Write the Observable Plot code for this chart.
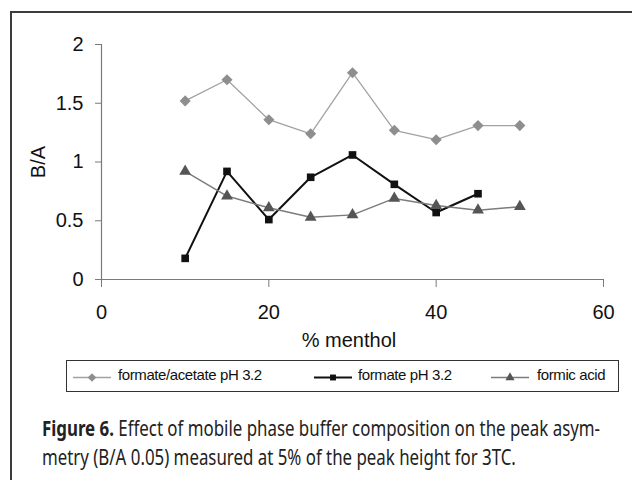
<!DOCTYPE html>
<html><head><meta charset="utf-8">
<script src="https://cdn.jsdelivr.net/npm/d3@7"></script>
<script src="https://cdn.jsdelivr.net/npm/@observablehq/plot@0.6"></script>
<style>
body{margin:0;background:#fff;width:632px;height:480px;overflow:hidden;position:relative;font-family:"Liberation Sans",Arial,sans-serif;color:#111;}
#frame{position:absolute;left:10px;top:11px;width:700px;height:600px;border:2px solid #3c3c3c;box-sizing:border-box;}
#chart{position:absolute;left:0;top:0;}
#ytitle{position:absolute;left:38px;top:162px;transform:translate(-50%,-50%) rotate(-90deg);font-size:20px;white-space:nowrap;}
#xtitle{position:absolute;left:349px;top:340px;transform:translate(-50%,-50%);font-size:20px;white-space:nowrap;}
#legend{position:absolute;left:66px;top:360px;width:553px;height:32px;border:1.5px solid #333;box-sizing:border-box;}
.li{position:absolute;top:0;height:29px;}
.lt{position:absolute;top:5px;font-size:15px;white-space:nowrap;letter-spacing:-0.4px;}
#caption{position:absolute;left:42px;top:413px;font-family:"Noto Sans",sans-serif;font-size:22px;line-height:29px;color:#222;}
#caption div{white-space:nowrap;transform-origin:0 0;}
</style></head>
<body>
<div id="frame"></div>
<div id="chart"></div>
<div id="ytitle">B/A</div>
<div id="xtitle">% menthol</div>
<div id="legend"></div>
<div id="caption"><div id="cap1"><b>Figure 6.</b> Effect of mobile phase buffer composition on the peak asym-</div><div id="cap2">metry (B/A 0.05) measured at 5% of the peak height for 3TC.</div></div>
<script>
const xValues = [10, 15, 20, 25, 30, 35, 40, 45, 50];
const formateAcetate = [1.52, 1.70, 1.36, 1.24, 1.76, 1.27, 1.19, 1.31, 1.31];
const formate = [0.18, 0.92, 0.51, 0.87, 1.06, 0.81, 0.57, 0.73];
const formicAcid = [0.92, 0.71, 0.61, 0.53, 0.55, 0.69, 0.63, 0.59, 0.62];
const seriesNames = ["formate/acetate pH 3.2", "formate pH 3.2", "formic acid"];
const xTicks = [0, 20, 40, 60];
const yTicks = [0, 0.5, 1, 1.5, 2];

const styles = [
  {line: "#a2a2a2", lw: 1.3, fill: "#8e8e8e", symbol: "diamond2", r: 5.0},
  {line: "#111111", lw: 2, fill: "#111111", symbol: "square", r: 4.3},
  {line: "#7c7c7c", lw: 1.5, fill: "#555555", symbol: "triangle", r: 4.4}
];
const seriesValues = [formateAcetate, formate, formicAcid];
const tables = seriesValues.map((vals, i) => vals.map((v, j) => ({x: xValues[j], y: v, s: seriesNames[i]})));

const marks = [
  Plot.axisY({ticks: yTicks, tickSize: 6, tickPadding: 12, stroke: "#7a7a7a", tickFormat: d => String(d), fontSize: 20, fill: "#111", label: null}),
  Plot.axisX({ticks: xTicks, tickSize: 8, tickPadding: 17, stroke: "#7a7a7a", tickFormat: d => String(d), fontSize: 20, fill: "#111", label: null}),
  Plot.ruleX([0], {stroke: "#7a7a7a", strokeWidth: 1.2}),
  Plot.ruleY([0], {stroke: "#7a7a7a", strokeWidth: 1.2})
];
tables.forEach((t, i) => {
  const st = styles[i];
  marks.push(Plot.line(t, {x: "x", y: "y", stroke: st.line, strokeWidth: st.lw}));
});
tables.forEach((t, i) => {
  const st = styles[i];
  marks.push(Plot.dot(t, {x: "x", y: "y", symbol: () => st.symbol, fill: st.fill, stroke: "none", r: st.r}));
});

const chart = Plot.plot({
  width: 632, height: 350,
  marginLeft: 101, marginRight: 29, marginTop: 44, marginBottom: 71,
  style: {fontFamily: "'Liberation Sans', Arial, sans-serif", fontSize: "20px", background: "transparent", color: "#111"},
  x: {domain: [0, 60]},
  y: {domain: [0, 2]},
  symbol: {type: "identity"},
  marks
});
document.getElementById("chart").appendChild(chart);

// legend
const legend = document.getElementById("legend");
const legendPos = [{lx: 6, tx: 51}, {lx: 247, tx: 291}, {lx: 424, tx: 470}];
seriesNames.forEach((name, i) => {
  const st = styles[i];
  const p = legendPos[i];
  const svg = d3.create("svg").attr("class", "li").attr("width", 38).attr("height", 29).style("left", p.lx + "px");
  svg.append("line").attr("x1", 0).attr("x2", 38).attr("y1", 16.5).attr("y2", 16.5).attr("stroke", st.line).attr("stroke-width", st.lw);
  const symMap = {diamond2: d3.symbolDiamond2, square: d3.symbolSquare, triangle: d3.symbolTriangle};
  svg.append("path").attr("d", d3.symbol(symMap[st.symbol], Math.PI * st.r * st.r * 0.6)()).attr("transform", "translate(19,16.5)").attr("fill", st.fill);
  legend.appendChild(svg.node());
  const t = document.createElement("div");
  t.className = "lt"; t.style.left = p.tx + "px"; t.textContent = name;
  legend.appendChild(t);
});

// caption fit
const c1 = document.getElementById("cap1"), c2 = document.getElementById("cap2");
const w = c1.getBoundingClientRect().width;
const s = 558 / w;
c1.style.transform = `scaleX(${s})`;
c2.style.transform = `scaleX(${s})`;
</script>
</body></html>
